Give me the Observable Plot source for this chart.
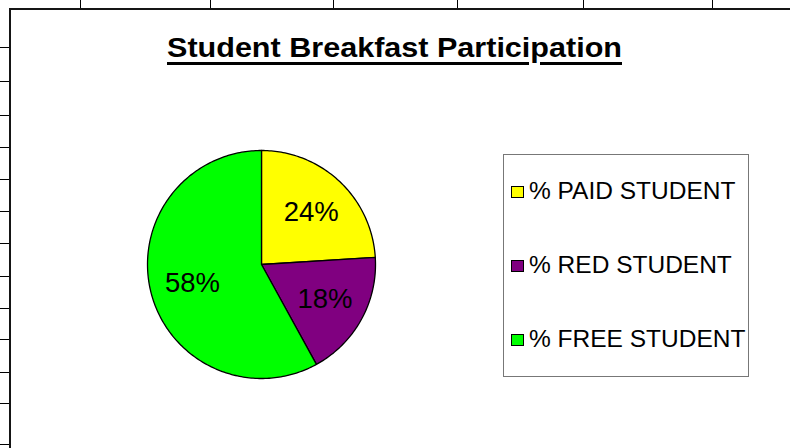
<!DOCTYPE html>
<html>
<head>
<meta charset="utf-8">
<script src="https://cdn.jsdelivr.net/npm/d3@7"></script>
<script src="https://cdn.jsdelivr.net/npm/@observablehq/plot@0.6"></script>
<style>
  html, body { margin: 0; padding: 0; background: #fff; }
  #wrap { position: relative; width: 790px; height: 448px; overflow: hidden; font-family: "Liberation Sans", Arial, sans-serif; }
  #wrap svg { position: absolute; left: 0; top: 0; }
  .vgrid { position: absolute; top: 0; width: 1px; height: 8px; background: #000; }
  .hgrid { position: absolute; left: 0; width: 9px; height: 1px; background: #000; }
  #btop { position: absolute; left: 9px; top: 8px; width: 781px; height: 2px; background: #151515; }
  #bleft { position: absolute; left: 9px; top: 8px; width: 2px; height: 440px; background: #151515; }
  #title { position: absolute; left: 167px; top: 34px; font-weight: bold; font-size: 28px; line-height: 28px; white-space: nowrap; color: #000;
           text-decoration: underline; text-decoration-thickness: 3px; text-underline-offset: 5px; transform-origin: 0 0; }
  #legend { position: absolute; left: 503px; top: 154px; width: 246px; height: 223px; box-sizing: border-box; border: 1px solid #777; }
  .sw { position: absolute; left: 511px; width: 13px; height: 12px; box-sizing: border-box; border: 1.5px solid #000; }
  .lt { position: absolute; left: 529px; font-size: 24.5px; line-height: 24.5px; white-space: nowrap; color: #000; }
</style>
</head>
<body>
<div id="wrap"></div>
<script>
// ---- data ----
const categories = ["% PAID STUDENT", "% RED STUDENT", "% FREE STUDENT"];
const shares = [24, 18, 58];
const labels = ["24%", "18%", "58%"];
const colors = ["#FFFF00", "#800080", "#00FF00"];
const titleText = "Student Breakfast Participation";

// ---- spreadsheet background ----
const wrap = document.getElementById("wrap");
const colLines = [80, 210, 333, 457, 583, 712];
const rowLines = [47, 81, 115, 147, 179, 211, 243, 276, 308, 339, 372, 403, 444];
colLines.forEach(x => { const d = document.createElement("div"); d.className = "vgrid"; d.style.left = x + "px"; wrap.appendChild(d); });
rowLines.forEach(y => { const d = document.createElement("div"); d.className = "hgrid"; d.style.top = y + "px"; wrap.appendChild(d); });
["btop", "bleft"].forEach(id => { const d = document.createElement("div"); d.id = id; wrap.appendChild(d); });

// ---- pie geometry from shares ----
const total = d3.sum(shares);
const pts = [];
const mids = [];
let acc = 0;
categories.forEach((c, i) => {
  const a0 = acc / total * 2 * Math.PI;
  acc += shares[i];
  const a1 = acc / total * 2 * Math.PI;
  const n = Math.max(2, Math.ceil((a1 - a0) / (Math.PI / 180)));
  for (let k = 0; k <= n; k++) {
    const a = a0 + (a1 - a0) * k / n;
    pts.push({cat: c, x: Math.sin(a), y: Math.cos(a), cx: 0, cy: 0});
  }
  const am = (a0 + a1) / 2;
  mids.push({cat: c, label: labels[i], x: 0.63 * Math.sin(am), y: 0.63 * Math.cos(am)});
});

const cx = 261.5, cy = 264.5, r = 114;
const chart = Plot.plot({
  width: 790,
  height: 448,
  margin: 0,
  style: {background: "transparent", fontFamily: "'Liberation Sans', Arial, sans-serif"},
  x: {domain: [-1, 1], range: [cx - r, cx + r], axis: null},
  y: {domain: [-1, 1], range: [cy + r, cy - r], axis: null},
  color: {domain: categories, range: colors},
  marks: [
    Plot.area(pts, {x1: "cx", y1: "cy", x2: "x", y2: "y", z: "cat", fill: "cat", stroke: "#000", strokeWidth: 1.3, fillOpacity: 1}),
    Plot.text(mids, {x: "x", y: "y", text: "label", fontSize: 27.5, fill: "#000"})
  ]
});
wrap.appendChild(chart);

// ---- title ----
const t = document.createElement("div");
t.id = "title";
t.textContent = titleText;
wrap.appendChild(t);
const tw = t.getBoundingClientRect().width;
t.style.transform = `scaleX(${455 / tw})`;

// ---- legend ----
const lg = document.createElement("div");
lg.id = "legend";
wrap.appendChild(lg);
const baselines = [200, 274, 348];
categories.forEach((c, i) => {
  const s = document.createElement("div");
  s.className = "sw";
  s.style.top = (baselines[i] - 14) + "px";
  s.style.background = colors[i];
  wrap.appendChild(s);
  const l = document.createElement("div");
  l.className = "lt";
  l.style.top = (baselines[i] - 20.7) + "px";
  l.textContent = c;
  wrap.appendChild(l);
});
</script>
</body>
</html>
